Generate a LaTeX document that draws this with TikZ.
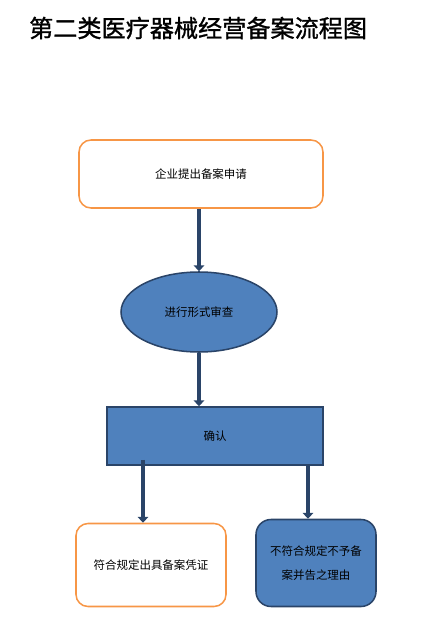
\documentclass[tikz,border=0pt]{standalone}
\usepackage{fontspec}
\setmainfont{Liberation Serif}
\newfontfamily\cjk{Noto Sans CJK SC}
\newfontfamily\cjkbiaoti[FakeBold=1.2]{Noto Sans CJK SC}
\usepackage{tikz}
\usetikzlibrary{shapes, shapes.geometric, arrows, arrows.meta, calc}
\definecolor{chengse}{HTML}{F79646}
\definecolor{lanse}{HTML}{4F81BD}
\definecolor{shenlan}{HTML}{2A4468}
\tikzstyle{kuang} = [
    rectangle,
    rounded corners = 0.36cm,
    line width = 1.3pt,
    draw = chengse,
    fill = white,
    text centered,
    font = \cjk\fontsize{9.8}{20}\selectfont,
]
\tikzstyle{lankuang} = [
    rectangle,
    line width = 1.3pt,
    draw = shenlan,
    fill = lanse,
    text centered,
    font = \cjk\fontsize{9.8}{20}\selectfont,
]
\tikzstyle{jiantou} = [
    -{Triangle[width=9pt, length=5pt]},
    line width = 3.4pt,
    draw = shenlan,
]

\begin{document}
\begin{tikzpicture} [x = 0.03cm, y = -0.03cm]
    \useasboundingbox (0, 0) rectangle (445, 622);

    \node (Biaoti) [anchor = west, font = \cjkbiaoti\fontsize{20.6}{24}\selectfont] at (25, 28) {第二类医疗器械经营备案流程图};

    \node (Shenqing) [kuang, minimum width = 7.32cm, minimum height = 2.04cm] at (201, 174) {企业提出备案申请};
    \node (Shencha) [lankuang, ellipse, minimum width = 4.68cm, minimum height = 2.4cm] at (199, 312) {进行形式审查};
    \node (Queren) [lankuang, minimum width = 6.48cm, minimum height = 1.74cm] at (215, 436) {确认};
    \node (Fuhe) [kuang, minimum width = 4.5cm, minimum height = 2.49cm] at (151, 565) {符合规定出具备案凭证};
    \node (Buhe) [lankuang, rounded corners = 0.45cm, minimum width = 3.6cm, minimum height = 2.61cm, align = center] at (316, 563) {不符合规定不予备\\案并告之理由};

    \coordinate (QuerenZuo) at ($(Queren.south) + (-72, -6)$);
    \coordinate (QuerenYou) at ($(Queren.south) + (93, 0)$);

    \draw[jiantou] (Shencha.north |- Shenqing.south) -- (Shencha.north);
    \draw[jiantou] (Shencha.south) -- (Shencha.south |- Queren.north);
    \draw[jiantou] (QuerenZuo) -- (QuerenZuo |- Fuhe.north);
    \draw[jiantou] (QuerenYou) -- (QuerenYou |- Buhe.north);
\end{tikzpicture}
\end{document}
